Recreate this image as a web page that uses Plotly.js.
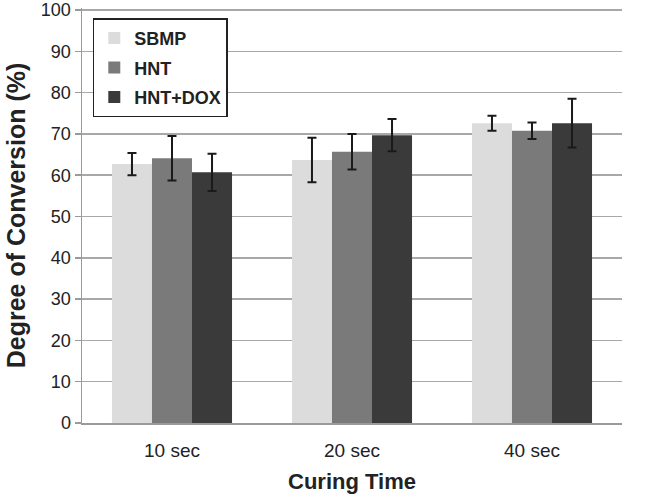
<!DOCTYPE html>
<html>
<head>
<meta charset="utf-8">
<script src="https://cdn.plot.ly/plotly-3.0.1.min.js"></script>
<style>html,body{margin:0;padding:0;background:#fff;}#chart{width:649px;height:494px;}</style>
</head>
<body>
<div id="chart"></div>
<script>
const categories = ["10 sec", "20 sec", "40 sec"];
const seriesNames = ["SBMP", "HNT", "HNT+DOX"];
const sbmp = [62.7, 63.7, 72.6];
const hnt = [64.1, 65.7, 70.8];
const hntDox = [60.7, 69.7, 72.6];
const sbmpErr = [2.7, 5.4, 1.8];
const hntErr = [5.4, 4.3, 2.0];
const hntDoxErr = [4.5, 3.9, 5.9];
const yTicks = [0, 10, 20, 30, 40, 50, 60, 70, 80, 90, 100];

const colors = ["#dcdcdc", "#7a7a7a", "#3a3a3a"];
const values = [sbmp, hnt, hntDox];
const errs = [sbmpErr, hntErr, hntDoxErr];

const traces = seriesNames.map((name, i) => ({
  type: "bar",
  name: name,
  legendgroup: "g" + i,
  x: categories,
  y: values[i],
  marker: {color: colors[i], line: {width: 0}},
  error_y: {type: "data", array: errs[i], visible: true, color: "#1a1a1a", thickness: 2, width: 4.5}
}));

const font = "Liberation Sans, Arial, sans-serif";
const layout = {
  width: 649, height: 494,
  margin: {l: 82, r: 27, t: 8, b: 71},
  paper_bgcolor: "#fff", plot_bgcolor: "#fff",
  barmode: "group", bargap: 0.333, bargroupgap: 0,
  font: {family: font, color: "#222", size: 19},
  showlegend: true,
  legend: {
    x: 0.02, y: 0.975, xanchor: "left", yanchor: "top",
    bordercolor: "#222", borderwidth: 1.5, bgcolor: "#fff",
    font: {family: font, size: 18, color: "#222", weight: "bold"},
    itemwidth: 30, traceorder: "grouped", tracegroupgap: 3
  },
  xaxis: {
    type: "category",
    showline: true, linecolor: "#9a9a9a", linewidth: 1.5,
    ticks: "", showgrid: false,
    ticklabelstandoff: 10,
    tickfont: {family: font, size: 19, color: "#222"},
    title: {text: "Curing Time", font: {family: font, size: 22, color: "#222", weight: "bold"}, standoff: 14}
  },
  yaxis: {
    range: [0, 100.5], tickvals: yTicks, ticktext: yTicks.map(String),
    ticklabeloverflow: "allow",
    showline: true, linecolor: "#9a9a9a", linewidth: 1.5,
    ticks: "outside", ticklen: 6, tickcolor: "#9a9a9a", tickwidth: 1.5,
    showgrid: true, gridcolor: "#a8a8a8", gridwidth: 1.5,
    zeroline: false,
    tickfont: {family: font, size: 18, color: "#222"},
    title: {text: "Degree of Conversion (%)", font: {family: font, size: 25, color: "#222", weight: "bold"}, standoff: 8}
  }
};

Plotly.newPlot("chart", traces, layout, {displayModeBar: false, staticPlot: true});
</script>
</body>
</html>
